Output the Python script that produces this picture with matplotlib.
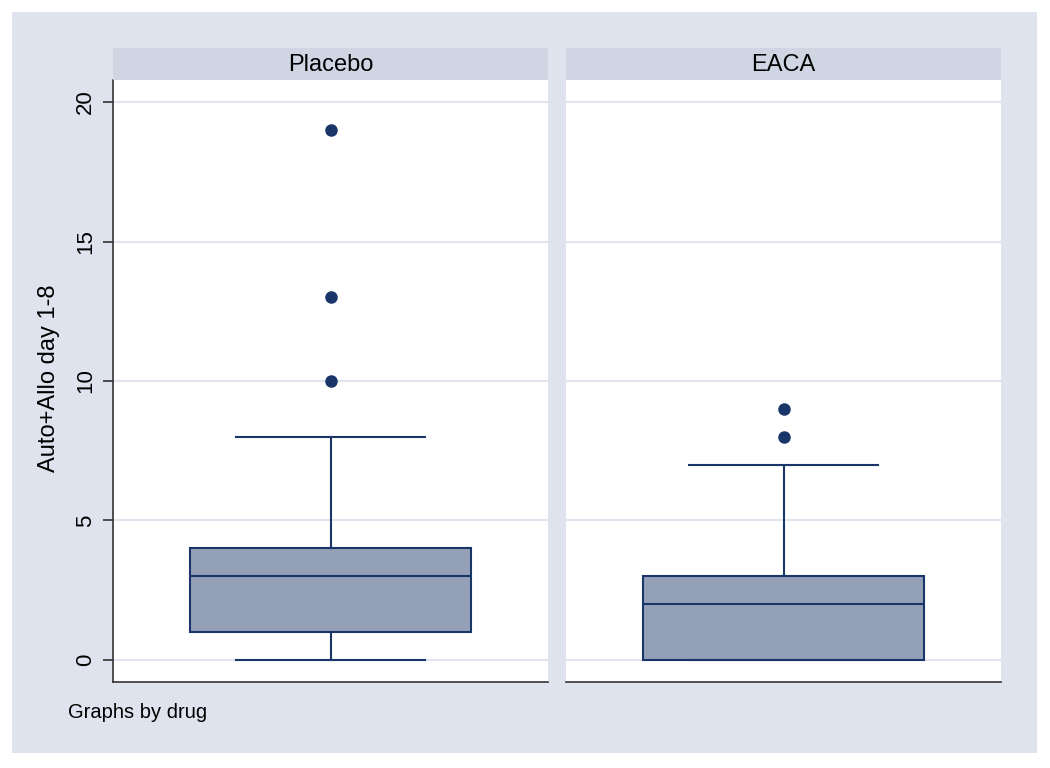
import matplotlib
matplotlib.use("Agg")
import matplotlib.pyplot as plt
from matplotlib.patches import Rectangle

plt.rcParams["font.family"] = ["Liberation Sans", "DejaVu Sans"]

groups = ["Placebo", "EACA"]
whislo = [0, 0]
q1 = [1, 0]
med = [3, 2]
q3 = [4, 3]
whishi = [8, 7]
outliers = [[10, 13, 19], [8, 9]]
yticks = [0, 5, 10, 15, 20]
ylabel = "Auto+Allo day 1-8"
note = "Graphs by drug"

BG = "#dfe3ee"
STRIP = "#d0d5e3"
FILL = "#93a0b8"
NAVY = "#1a3668"
GRID = "#e1e5ef"

W, H = 1050, 768
fig = plt.figure(figsize=(W / 100, H / 100), dpi=100, facecolor="white")
fig.patches.append(Rectangle((12 / W, 1 - 753 / H), (1037 - 12) / W, (753 - 12) / H,
                             transform=fig.transFigure, facecolor=BG, edgecolor="none", zorder=-10))

lefts = [113, 566]
pw = 435
top, bottom = 80, 682
for i, g in enumerate(groups):
    ax = fig.add_axes([lefts[i] / W, 1 - bottom / H, pw / W, (bottom - top) / H])
    ax.set_facecolor("white")
    stats = [dict(med=med[i], q1=q1[i], q3=q3[i], whislo=whislo[i], whishi=whishi[i],
                  fliers=outliers[i], label=g)]
    ax.bxp(stats, positions=[0], widths=[0.645], patch_artist=True, showfliers=True,
           boxprops=dict(facecolor=FILL, edgecolor=NAVY, linewidth=1.5),
           medianprops=dict(color=NAVY, linewidth=1.5),
           whiskerprops=dict(color=NAVY, linewidth=1.5),
           capprops=dict(color=NAVY, linewidth=1.5),
           capwidths=[0.435],
           flierprops=dict(marker="o", markerfacecolor=NAVY, markeredgecolor=NAVY, markersize=8),
           zorder=3)
    ax.set_xlim(-0.5, 0.5)
    ax.set_ylim(-0.79, 20.79)
    ax.set_yticks(yticks)
    ax.grid(axis="y", color=GRID, linewidth=1.5, zorder=0)
    ax.set_axisbelow(True)
    ax.set_xticks([])
    for s in ["top", "right"]:
        ax.spines[s].set_visible(False)
    ax.spines["bottom"].set_color("#333333")
    ax.spines["bottom"].set_linewidth(1.2)
    if i == 0:
        ax.spines["left"].set_color("#333333")
        ax.spines["left"].set_linewidth(1.2)
        ax.tick_params(axis="y", length=7, width=1.2, color="#333333", labelsize=16, pad=5)
        for lab in ax.get_yticklabels():
            lab.set_rotation(90)
            lab.set_va("center")
    else:
        ax.spines["left"].set_visible(False)
        ax.tick_params(axis="y", length=0, labelleft=False)
    # strip header
    sax = fig.add_axes([lefts[i] / W, 1 - top / H, pw / W, 32 / H])
    sax.set_facecolor(STRIP)
    for s in sax.spines.values():
        s.set_visible(False)
    sax.set_xticks([]); sax.set_yticks([])
    sax.text(0.5, 0.47, g, ha="center", va="center", fontsize=17, transform=sax.transAxes)

fig.text(49 / W, 1 - 378 / H, ylabel, rotation=90, ha="center", va="center", fontsize=17)
fig.text(68 / W, 1 - 712 / H, note, fontsize=14.5, ha="left", va="center")
fig.savefig("out.png", dpi=100, facecolor="white")
